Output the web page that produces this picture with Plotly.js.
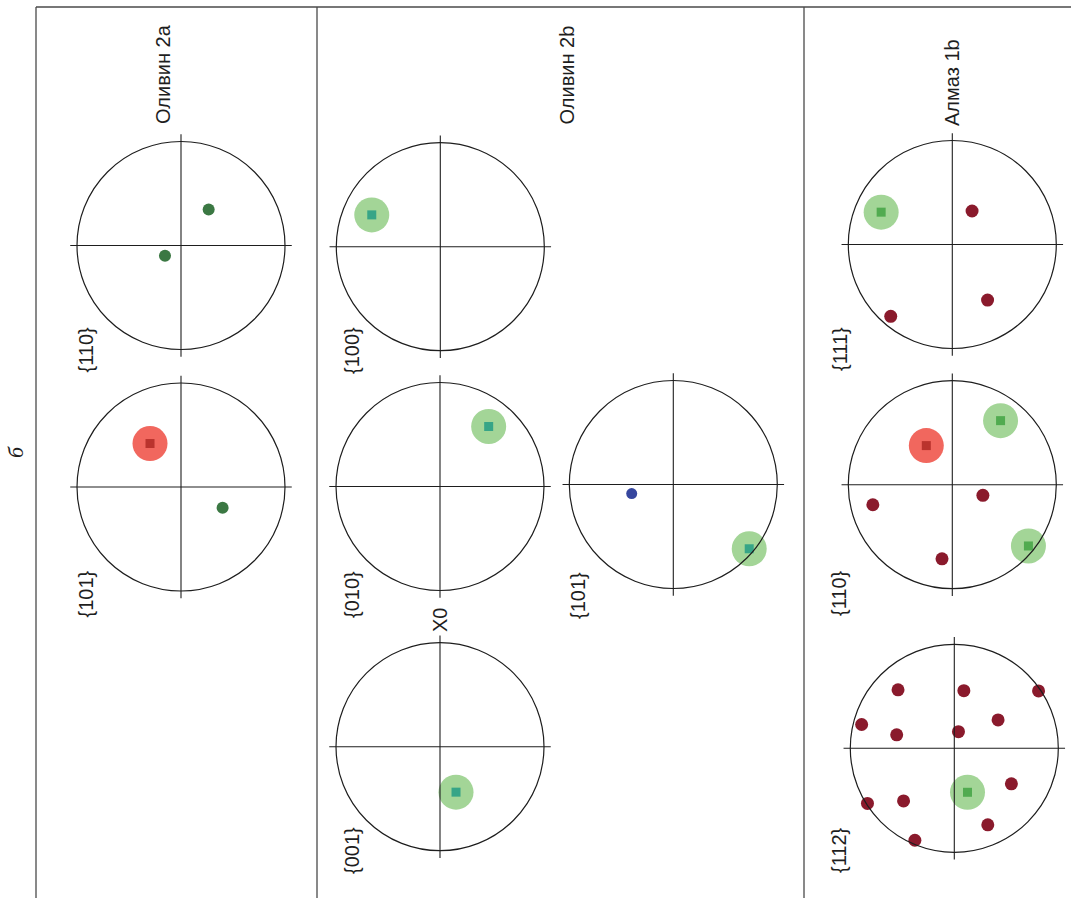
<!DOCTYPE html>
<html>
<head>
<meta charset="utf-8">
<script src="https://cdn.plot.ly/plotly-3.0.1.min.js"></script>
<style>html,body{margin:0;padding:0;background:#fff;}#chart{width:1071px;height:898px;}</style>
</head>
<body>
<div id="chart"></div>
<script>
// ---------------- DATA (normalised pole-figure coordinates, radius = 1) ----------------
// Оливин 2a
const ol2a_110_dotX = [0.266, -0.154];
const ol2a_110_dotY = [0.346, -0.099];
const ol2a_101_redX = [-0.298];
const ol2a_101_redY = [0.418];
const ol2a_101_dotX = [0.40];
const ol2a_101_dotY = [-0.20];
// Оливин 2b
const ol2b_100_haloX = [-0.659];
const ol2b_100_haloY = [0.306];
const ol2b_010_haloX = [0.468];
const ol2b_010_haloY = [0.577];
const ol2b_101_blueX = [-0.40];
const ol2b_101_blueY = [-0.087];
const ol2b_101_haloX = [0.73];
const ol2b_101_haloY = [-0.618];
const ol2b_001_haloX = [0.154];
const ol2b_001_haloY = [-0.437];
// Алмаз 1b
const al1b_111_haloX = [-0.684];
const al1b_111_haloY = [0.311];
const al1b_111_dotX = [0.19, 0.339, -0.592];
const al1b_111_dotY = [0.322, -0.534, -0.691];
const al1b_110_redX = [-0.25];
const al1b_110_redY = [0.376];
const al1b_110_haloX = [0.464, 0.732];
const al1b_110_haloY = [0.616, -0.589];
const al1b_110_dotX = [0.294, -0.764, -0.099];
const al1b_110_dotY = [-0.102, -0.193, -0.713];
const al1b_112_haloX = [0.127];
const al1b_112_haloY = [-0.423];
const al1b_112_dotX = [-0.541, 0.092, 0.81, -0.891, -0.554, 0.04, 0.421, 0.549, -0.488, -0.835, 0.322, -0.379];
const al1b_112_dotY = [0.562, 0.554, 0.552, 0.229, 0.13, 0.16, 0.273, -0.342, -0.506, -0.53, -0.736, -0.884];

const panelTitles = ["Оливин 2a", "Оливин 2b", "Алмаз 1b"];
const planeLabels = ["{110}", "{101}", "{100}", "{010}", "{101}", "{001}", "{111}", "{110}", "{112}"];

// ---------------- LAYOUT (pixel geometry) ----------------
const W = 1071, H = 898, R = 104, EXT = 1.1;
const centers = [
  [181, 245.5], [181, 487],
  [440.3, 246.7], [440, 486.5], [673.3, 484.5], [440, 746.7],
  [952.3, 244.5], [952.3, 484.7], [954.3, 748.3]
];
const labelPos = [
  [85.5, 350], [85.5, 594],
  [352, 351], [352, 595], [578, 596], [352, 851],
  [840, 349], [839, 593], [839, 850]
];
const titlePos = [[163, 125], [567, 126], [951.5, 127]];

const C = {
  line: '#1e1e1e',
  olGreen: '#3b7843',
  redHalo: '#f1675e',
  redCore: '#b42d28',
  greenHalo: '#a3d597',
  tealCore: '#2ba085',
  greenCore: '#48a648',
  blue: '#36469e',
  maroon: '#8a1a2c'
};

const layout = {
  width: W, height: H,
  margin: {l: 0, r: 0, t: 0, b: 0},
  paper_bgcolor: '#ffffff', plot_bgcolor: 'rgba(0,0,0,0)',
  showlegend: false,
  shapes: [], annotations: []
};
const px = x => x / W;
const py = y => 1 - y / H;

centers.forEach((c, i) => {
  const n = i + 1;
  const xa = 'xaxis' + (n === 1 ? '' : n), ya = 'yaxis' + (n === 1 ? '' : n);
  const xr = 'x' + (n === 1 ? '' : n), yr = 'y' + (n === 1 ? '' : n);
  const h = R * EXT;
  layout[xa] = {domain: [px(c[0] - h), px(c[0] + h)], range: [-EXT, EXT], visible: false, fixedrange: true, anchor: yr};
  layout[ya] = {domain: [py(c[1] + h), py(c[1] - h)], range: [-EXT, EXT], visible: false, fixedrange: true, anchor: xr};
  layout.shapes.push({type: 'circle', xref: xr, yref: yr, x0: -1, x1: 1, y0: -1, y1: 1, line: {color: C.line, width: 1.2}, layer: 'above'});
  layout.shapes.push({type: 'line', xref: xr, yref: yr, x0: -1.065, x1: 1.065, y0: 0, y1: 0, line: {color: C.line, width: 1.1}, layer: 'above'});
  layout.shapes.push({type: 'line', xref: xr, yref: yr, x0: 0, x1: 0, y0: -1.07, y1: 1.07, line: {color: C.line, width: 1.1}, layer: 'above'});
});

// table frame
const frameCol = '#4a4a4a';
layout.shapes.push({type: 'line', xref: 'paper', yref: 'paper', x0: px(36), x1: 1, y0: py(7), y1: py(7), line: {color: frameCol, width: 1.3}});
[36, 317, 804].forEach(x => {
  layout.shapes.push({type: 'line', xref: 'paper', yref: 'paper', x0: px(x), x1: px(x), y0: py(7), y1: 0, line: {color: frameCol, width: 1.3}});
});

const font = {family: 'Liberation Sans, Arial, sans-serif', size: 20, color: '#1e1e1e'};
panelTitles.forEach((t, i) => {
  layout.annotations.push({text: t, xref: 'paper', yref: 'paper', x: px(titlePos[i][0]), y: py(titlePos[i][1]),
    xanchor: 'center', yanchor: 'bottom', textangle: -90, showarrow: false, font: font, borderpad: 0});
});
planeLabels.forEach((t, i) => {
  layout.annotations.push({text: t, xref: 'paper', yref: 'paper', x: px(labelPos[i][0]), y: py(labelPos[i][1]),
    xanchor: 'center', yanchor: 'middle', textangle: -90, showarrow: false, font: font, borderpad: 0});
});
layout.annotations.push({text: 'X0', xref: 'paper', yref: 'paper', x: px(439.5), y: py(620.5),
  xanchor: 'center', yanchor: 'middle', textangle: -90, showarrow: false, font: font, borderpad: 0});
layout.annotations.push({text: 'б', xref: 'paper', yref: 'paper', x: px(15), y: py(452),
  xanchor: 'center', yanchor: 'middle', textangle: -90, showarrow: false,
  font: {family: 'Liberation Serif, Times New Roman, serif', size: 22, color: '#1e1e1e', style: 'italic'}, borderpad: 0});

// ---------------- TRACES ----------------
const traces = [];
function axes(n) { return {xaxis: 'x' + (n === 1 ? '' : n), yaxis: 'y' + (n === 1 ? '' : n)}; }
function pts(n, xs, ys, color, size, symbol, opacity) {
  traces.push(Object.assign({type: 'scatter', mode: 'markers', x: xs, y: ys, hoverinfo: 'skip', cliponaxis: false,
    marker: {color: color, size: size, symbol: symbol || 'circle', opacity: opacity == null ? 1 : opacity, line: {width: 0}}}, axes(n)));
}
function halo(n, xs, ys, haloCol, coreCol) {
  pts(n, xs, ys, haloCol, 35, 'circle');
  pts(n, xs, ys, coreCol, 9, 'square', 0.9);
}

pts(1, ol2a_110_dotX, ol2a_110_dotY, C.olGreen, 12, 'square-rounded' in {} ? 'circle' : 'circle');
halo(2, ol2a_101_redX, ol2a_101_redY, C.redHalo, C.redCore);
pts(2, ol2a_101_dotX, ol2a_101_dotY, C.olGreen, 12);

halo(3, ol2b_100_haloX, ol2b_100_haloY, C.greenHalo, C.tealCore);
halo(4, ol2b_010_haloX, ol2b_010_haloY, C.greenHalo, C.tealCore);
pts(5, ol2b_101_blueX, ol2b_101_blueY, C.blue, 11);
halo(5, ol2b_101_haloX, ol2b_101_haloY, C.greenHalo, C.tealCore);
halo(6, ol2b_001_haloX, ol2b_001_haloY, C.greenHalo, C.tealCore);

halo(7, al1b_111_haloX, al1b_111_haloY, C.greenHalo, C.greenCore);
pts(7, al1b_111_dotX, al1b_111_dotY, C.maroon, 13);
halo(8, al1b_110_redX, al1b_110_redY, C.redHalo, C.redCore);
halo(8, al1b_110_haloX, al1b_110_haloY, C.greenHalo, C.greenCore);
pts(8, al1b_110_dotX, al1b_110_dotY, C.maroon, 13);
halo(9, al1b_112_haloX, al1b_112_haloY, C.greenHalo, C.greenCore);
pts(9, al1b_112_dotX, al1b_112_dotY, C.maroon, 13);

Plotly.newPlot('chart', traces, layout, {staticPlot: true, displayModeBar: false});
</script>
</body>
</html>
